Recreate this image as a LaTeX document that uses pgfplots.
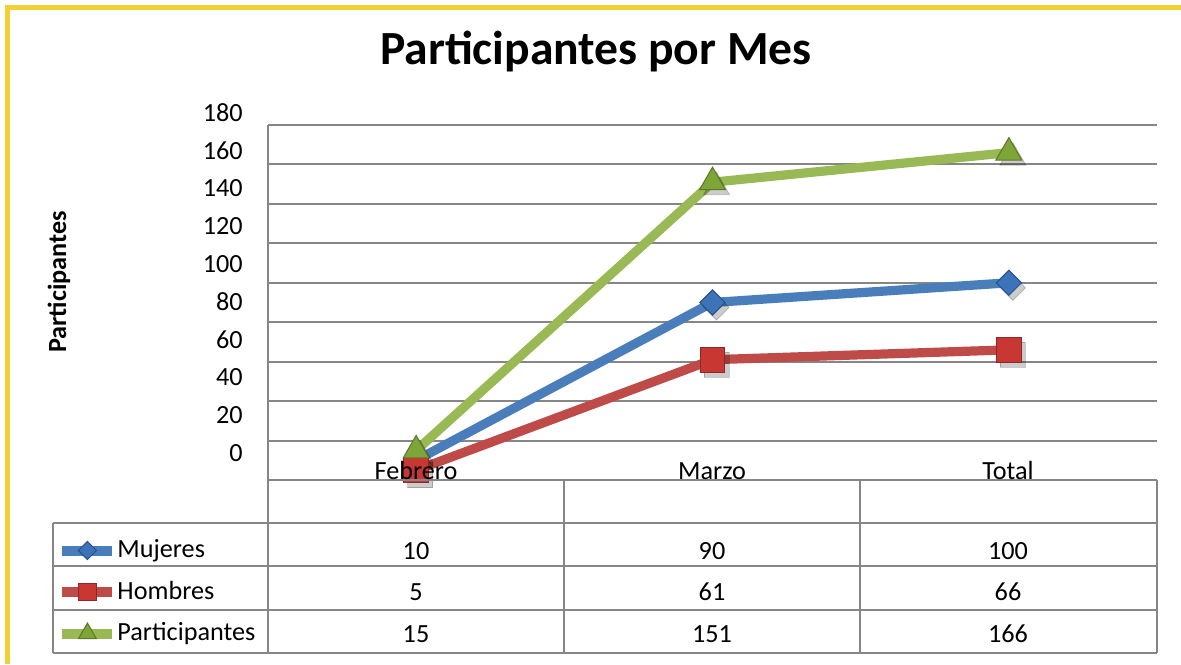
\documentclass[border=0pt]{standalone}
\usepackage{pgfplots}
\pgfplotsset{compat=1.18}
\usepackage{fontspec}
\setmainfont{Carlito}
\definecolor{frameY}{RGB}{245,208,50}
\definecolor{gridgray}{RGB}{134,134,134}
\definecolor{blueL}{RGB}{74,126,187}
\definecolor{blueM}{RGB}{60,115,185}
\definecolor{blueD}{RGB}{40,80,140}
\definecolor{redL}{RGB}{190,75,72}
\definecolor{redM}{RGB}{200,55,50}
\definecolor{redD}{RGB}{140,40,40}
\definecolor{greenL}{RGB}{152,185,84}
\definecolor{greenM}{RGB}{125,165,55}
\definecolor{greenD}{RGB}{90,120,40}
\newcommand\tfont{\fontsize{13.1}{15.5}\selectfont}
\begin{document}
\begin{tikzpicture}[x=0.5pt,y=-0.5pt]
\fill[white] (0,0) rectangle (1181,664);
\useasboundingbox (0,0) rectangle (1181,664);
\fill[frameY] (5,5) rectangle (1181,10);
\fill[frameY] (5,5) rectangle (10,664);
\node[font=\fontsize{23.8}{28}\selectfont\bfseries] at (596,52) {Participantes por Mes};
\node[rotate=90, font=\tfont\bfseries] at (59,282) {Participantes};

\begin{axis}[at={(134pt,-240pt)}, anchor=south west, scale only axis,
  width=444.5pt, height=177.5pt,
  xmin=-0.5, xmax=2.5, ymin=0, ymax=180,
  ytick={0,20,...,180}, yticklabels={}, xtick=\empty,
  ymajorgrids, grid style={gridgray, line width=1pt},
  major tick length=0, axis line style={draw=none}, clip=false,
  legend cell align=left,
  legend image code/.code={\draw[#1, line width=5pt, mark repeat=2, mark phase=2] plot coordinates {(0pt,0pt) (12.5pt,0pt) (25pt,0pt)};},
  legend style={at={(axis description cs:-0.2373,-0.3155)}, anchor=west,
    draw=none, fill=none, inner sep=0pt, font=\tfont, row sep=7.75pt, column sep=0pt,
    nodes={inner sep=0pt, text height=10pt, text depth=3pt}},
]
% shadows
\addplot[forget plot, only marks, mark=square*, mark size=4.45pt, mark options={rotate=45, draw=none, fill=black, opacity=0.2}, xshift=2pt, yshift=-2.5pt] coordinates {(0,10) (1,90) (2,100)};
\addplot[forget plot, only marks, mark=square*, mark size=6.2pt, mark options={draw=none, fill=black, opacity=0.2}, xshift=2pt, yshift=-2.5pt] coordinates {(0,5) (1,61) (2,66)};
\addplot[forget plot, only marks, mark=triangle*, mark size=7.5pt, mark options={draw=none, fill=black, opacity=0.2}, xshift=2pt, yshift=-2.5pt] coordinates {(0,15) (1,151) (2,166)};
% series
\addplot[blueL, line width=4.6pt, mark=square*, mark size=4.45pt, mark options={rotate=45, fill=blueM, draw=blueD, line width=0.5pt}, legend image post style={mark size=3.2pt}] coordinates {(0,10) (1,90) (2,100)};
\addlegendentry{Mujeres}
\addplot[redL, line width=4.6pt, mark=square*, mark size=6.2pt, mark options={fill=redM, draw=redD, line width=0.5pt}, legend image post style={mark size=4.3pt}] coordinates {(0,5) (1,61) (2,66)};
\addlegendentry{Hombres}
\addplot[greenL, line width=4.6pt, mark=triangle*, mark size=7.5pt, mark options={fill=greenM, draw=greenD, line width=0.5pt}, legend image post style={mark size=5.2pt}] coordinates {(0,15) (1,151) (2,166)};
\addlegendentry{Participantes}
\end{axis}

\begin{axis}[at={(134pt,-240pt)}, anchor=south west, scale only axis,
  width=444.5pt, height=183.5pt,
  xmin=-0.5, xmax=2.5, ymin=-14.29, ymax=180,
  ytick={0,20,...,180}, xtick=\empty,
  axis line style={draw=none}, major tick length=0,
  /pgf/number format/assume math mode=true,
  tick label style={font=\tfont},
  yticklabel style={anchor=east, inner sep=0pt, xshift=-12.5pt},
]
\end{axis}

% table grid
\begin{scope}[gridgray, line width=1pt]
\draw (268,125) -- (268,653);
\draw (268,480) -- (1157,480);
\foreach \yy in {523,566,610,653} {\draw (53,\yy) -- (1157,\yy);}
\foreach \xx in {564,860,1157} {\draw (\xx,480) -- (\xx,653);}
\draw (53,523) -- (53,653);
\end{scope}
\begin{scope}[every node/.style={anchor=base, inner sep=0pt, font=\tfont}]
\node at (416,479) {Febrero}; \node at (712,479) {Marzo}; \node at (1008,479) {Total};
\node at (416,559) {10};  \node at (712,559) {90};  \node at (1008,559) {100};
\node at (416,600) {5};   \node at (712,600) {61};  \node at (1008,600) {66};
\node at (416,642) {15};  \node at (712,642) {151}; \node at (1008,642) {166};
\end{scope}
\end{tikzpicture}
\end{document}
